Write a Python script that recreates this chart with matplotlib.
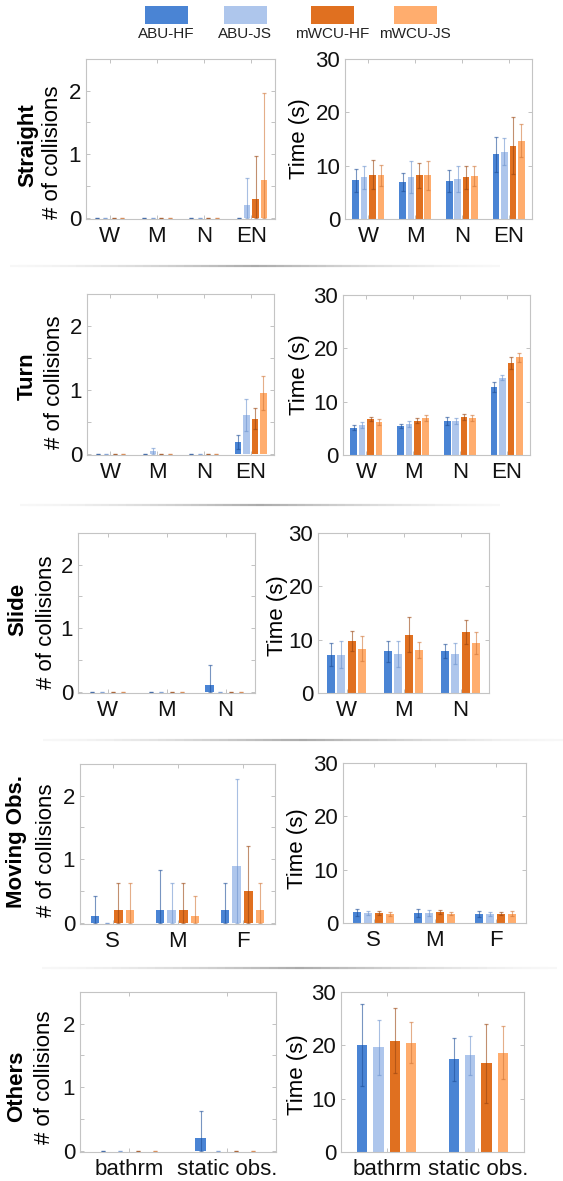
import numpy as np
import matplotlib.pyplot as plt
from matplotlib.patches import Rectangle
from matplotlib.collections import LineCollection

plt.rcParams['font.family'] = ['Liberation Sans', 'DejaVu Sans']

methods = ['ABU-HF', 'ABU-JS', 'mWCU-HF', 'mWCU-JS']
colors = ['#4a84d4', '#aec6ec', '#e07020', '#ffad6e']
err_colors = ['#1f4f98', '#6f95cf', '#9a4510', '#d2783a']

tasks = ['Straight', 'Turn', 'Slide', 'Moving Obs.', 'Others']
conditions = [['W', 'M', 'N', 'EN'],
              ['W', 'M', 'N', 'EN'],
              ['W', 'M', 'N'],
              ['S', 'M', 'F'],
              ['bathrm', 'static obs.']]

# number of collisions: mean and std, one list per method
straight_col = [[0, 0, 0, 0], [0, 0, 0, 0.2], [0, 0, 0, 0.3], [0, 0, 0, 0.6]]
straight_col_err = [[0, 0, 0, 0], [0, 0, 0, 0.42], [0, 0, 0, 0.68], [0, 0, 0, 1.37]]
turn_col = [[0, 0, 0, 0.19], [0, 0.04, 0, 0.6], [0, 0, 0, 0.55], [0, 0, 0, 0.95]]
turn_col_err = [[0, 0, 0, 0.11], [0, 0.05, 0, 0.25], [0, 0, 0, 0.17], [0, 0, 0, 0.26]]
slide_col = [[0, 0, 0.1], [0, 0, 0], [0, 0, 0], [0, 0, 0]]
slide_col_err = [[0, 0, 0.32], [0, 0, 0], [0, 0, 0], [0, 0, 0]]
moving_col = [[0.1, 0.2, 0.2], [0, 0.2, 0.9], [0.2, 0.2, 0.5], [0.2, 0.1, 0.2]]
moving_col_err = [[0.32, 0.63, 0.42], [0, 0.42, 1.37], [0.42, 0.42, 0.71], [0.42, 0.32, 0.42]]
others_col = [[0, 0.2], [0, 0], [0, 0], [0, 0]]
others_col_err = [[0, 0.43], [0, 0], [0, 0], [0, 0]]

# completion time (s): mean and std
straight_time = [[7.25, 6.9, 7.1, 12.1], [7.8, 7.8, 7.5, 12.6],
                 [8.3, 8.2, 7.8, 13.75], [8.2, 8.2, 8.0, 14.7]]
straight_time_err = [[2.2, 1.7, 2.0, 3.2], [2.1, 3.0, 2.4, 2.5],
                     [2.7, 2.3, 2.1, 5.4], [2.0, 2.7, 1.9, 3.1]]
turn_time = [[5.15, 5.45, 6.4, 12.8], [5.65, 5.8, 6.4, 14.5],
             [6.7, 6.45, 7.15, 17.3], [6.2, 6.9, 6.95, 18.3]]
turn_time_err = [[0.45, 0.4, 0.7, 0.9], [0.55, 0.5, 0.5, 0.5],
                 [0.4, 0.4, 0.5, 1.1], [0.5, 0.55, 0.5, 0.9]]
slide_time = [[7.2, 7.8, 7.9], [7.2, 7.3, 7.4], [9.8, 10.9, 11.4], [8.3, 8.1, 9.4]]
slide_time_err = [[2.2, 2.0, 1.35], [2.6, 2.5, 2.0], [1.9, 3.3, 2.2], [2.3, 1.5, 2.1]]
moving_time = [[2.0, 1.9, 1.7], [1.9, 1.9, 1.7], [1.9, 2.0, 1.75], [1.75, 1.75, 1.75]]
moving_time_err = [[0.6, 0.7, 0.6], [0.4, 0.5, 0.3], [0.35, 0.4, 0.25], [0.35, 0.3, 0.45]]
others_time = [[20.0, 17.4], [19.6, 18.1], [20.9, 16.6], [20.5, 18.6]]
others_time_err = [[7.7, 4.0], [5.1, 3.6], [6.1, 7.4], [3.8, 5.0]]

col_data = [(straight_col, straight_col_err), (turn_col, turn_col_err),
            (slide_col, slide_col_err), (moving_col, moving_col_err),
            (others_col, others_col_err)]
time_data = [(straight_time, straight_time_err), (turn_time, turn_time_err),
             (slide_time, slide_time_err), (moving_time, moving_time_err),
             (others_time, others_time_err)]

W, H = 563, 1181
fig = plt.figure(figsize=(W / 100, H / 100), dpi=100)


def box(x0, y0, x1, y1):
    return [x0 / W, 1 - y1 / H, (x1 - x0) / W, (y1 - y0) / H]


# pixel boxes of the panels (left, top, right, bottom)
left_boxes = [(86, 59, 275, 219), (87, 294, 274, 455), (78, 533, 255, 693),
              (80, 764, 275, 924), (80, 992, 276, 1152)]
right_boxes = [(345, 59, 532, 219), (343, 295, 530, 455), (318, 533, 489, 693),
               (343, 763, 526, 923), (341, 992, 524, 1152)]
bar_w = [0.14, 0.14, 0.14, 0.13, 0.11]
task_pos = [(28, 145), (27, 376), (18, 609), (17, 841), (17, 1086)]
ylab_pos = [(52, 152), (55, 382), (47, 622), (46, 850), (44, 1077)]
time_pos = [(300, 139), (300, 375), (277, 616), (298, 849), (298, 1075)]


def draw(ax, means, errs, labels, width):
    x = np.arange(1, len(labels) + 1)
    for i in range(4):
        m = np.array(means[i], dtype=float)
        e = np.array(errs[i], dtype=float)
        pos = x + (i - 1.5) * 0.18
        ax.bar(pos, m, width, color=colors[i], linewidth=0)
        ax.errorbar(pos, m, yerr=[np.minimum(e, m), e], fmt='none',
                    ecolor=err_colors[i], elinewidth=0.8, capsize=1.6,
                    capthick=0.9, alpha=0.6)
    ax.set_xlim(0.5, len(labels) + 0.5)
    ax.set_xticks(x, labels)
    for s in ax.spines.values():
        s.set_color('#c4c4c4')
        s.set_linewidth(0.8)
    ax.tick_params(direction='in', length=3, width=0.6, color='#b8b8b8',
                   top=True, right=True, labelsize=16, labelcolor='#111111')
    ax.tick_params(axis='x', pad=5)


for r in range(5):
    axl = fig.add_axes(box(*left_boxes[r]))
    draw(axl, col_data[r][0], col_data[r][1], conditions[r], bar_w[r])
    axl.set_ylim(-0.02, 2.5)
    axl.set_yticks([0, 0.5, 1, 1.5, 2], ['0', '', '1', '', '2'])

    axr = fig.add_axes(box(*right_boxes[r]))
    draw(axr, time_data[r][0], time_data[r][1], conditions[r], bar_w[r])
    axr.set_ylim(0, 30)
    axr.set_yticks([0, 10, 20, 30])

    fig.text(task_pos[r][0] / W, 1 - task_pos[r][1] / H, tasks[r], rotation=90,
             fontsize=16, fontweight='bold', ha='center', va='center')
    fig.text(ylab_pos[r][0] / W, 1 - ylab_pos[r][1] / H, '# of collisions',
             rotation=90, fontsize=16, ha='center', va='center')
    fig.text(time_pos[r][0] / W, 1 - time_pos[r][1] / H, 'Time (s)',
             rotation=90, fontsize=16, ha='center', va='center')

# legend on top
patch_x = [145, 224, 311, 394]
for i in range(4):
    fig.add_artist(Rectangle((patch_x[i] / W, 1 - 24 / H), 43 / W, 18 / H,
                             transform=fig.transFigure, color=colors[i], lw=0))
    fig.text((patch_x[i] + 21) / W, 1 - 34 / H, methods[i], fontsize=11,
             ha='center', va='center', color='#222222')


# faded separator lines between the rows
def separator(y, x0, x1):
    xs = np.linspace(x0, x1, 60)
    segs = [[(xs[k] / W, 1 - y / H), (xs[k + 1] / W, 1 - y / H)] for k in range(59)]
    t = np.linspace(0, 1, 59)
    alpha = 0.05 + 0.55 * (1 - np.abs(t - 0.5) * 2) ** 1.5
    cols = [(0.45, 0.45, 0.45, a) for a in alpha]
    fig.add_artist(LineCollection(segs, colors=cols, linewidths=1.6,
                                  transform=fig.transFigure))


separator(266, 10, 500)
separator(505, 20, 500)
separator(740, 43, 563)
separator(968, 42, 557)

fig.savefig('out.png', dpi=100)
